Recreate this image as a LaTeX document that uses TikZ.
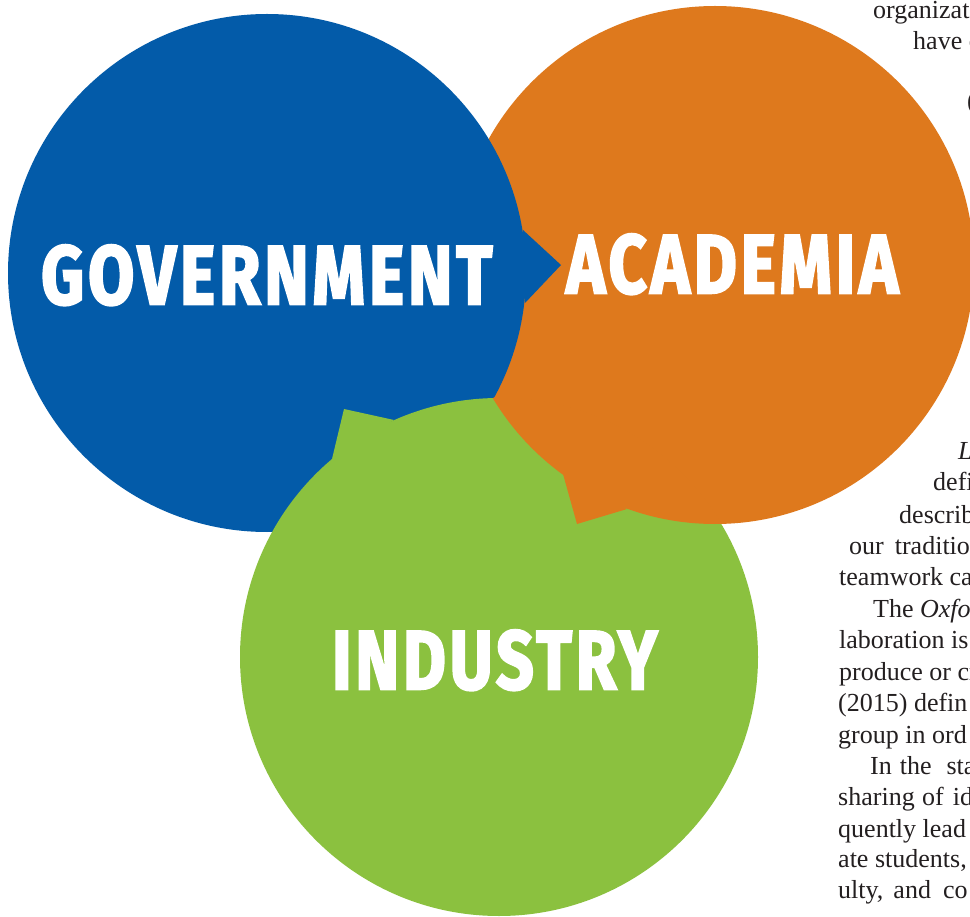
\documentclass[tikz,border=0pt]{standalone}
\usepackage{fontspec}
\setmainfont{Liberation Serif}
\newfontfamily\labelfont{Fira Sans}[LetterSpace=6,BoldFeatures={FakeBold=3}]
\definecolor{blueC}{RGB}{3,91,169}
\definecolor{orangeC}{RGB}{222,121,29}
\definecolor{greenC}{RGB}{139,193,63}
\definecolor{textgray}{RGB}{35,31,32}
\begin{document}
\begin{tikzpicture}[x=1pt,y=-1pt,
  bodytext/.style={anchor=base west, inner sep=0pt, font=\fontsize{26}{31}\selectfont, text=textgray},
  biglabel/.style={anchor=base west, inner sep=0pt, text=white}]
\useasboundingbox (0,0) rectangle (970,917);
\clip (0,0) rectangle (970,917);
\fill[white] (0,0) rectangle (970,917);
% circles (cyclic overlap: blue over orange, orange over green, green over blue)
\fill[orangeC] (715,265) circle [radius=259pt];
\fill[blueC] (267,273) circle [radius=259pt];
\fill[greenC] (499,657) circle [radius=259pt];
\begin{scope}
  \clip (499,657) circle [radius=259pt];
  \fill[orangeC] (715,265) circle [radius=259pt];
\end{scope}
\begin{scope}
  \clip (715,265) circle [radius=258pt];
  \draw[orangeC, line width=1.4pt] (499,657) circle [radius=259pt];
\end{scope}
% tails
\fill[blueC] (523,230) -- (561,265) -- (525,303) -- cycle;
\fill[greenC] (332,459) -- (344,409) -- (394,420) -- cycle;
\fill[orangeC] (563,474) -- (577,524) -- (627,509) -- cycle;
% labels
\node[biglabel] (gov) at (41,304) {\resizebox{451pt}{59pt}{\labelfont\bfseries GOVERNMENT}};
\node[biglabel] (aca) at (566,293) {\resizebox{332pt}{59pt}{\labelfont\bfseries ACADEMIA}};
\node[biglabel] (ind) at (332,689) {\resizebox{325pt}{59pt}{\labelfont\bfseries INDUSTRY}};
% body text (cropped at the right edge)
\node[bodytext] (t1) at (873,19) {organizat};
\node[bodytext] (t2) at (913,50) {have c};
\node[bodytext] (t3) at (967,110) {(};
\node[bodytext] (t4) at (958,460) {\textit{L}};
\node[bodytext] (t5) at (933,490) {defi};
\node[bodytext] (t6) at (899,523) {describ};
\node[bodytext] (t7) at (849,554) {our\hspace{11pt}traditio};
\node[bodytext] (t8) at (839,585) {teamwork ca};
\node[bodytext] (t9) at (873,617) {The \textit{Oxford}};
\node[bodytext] (t10) at (839,648) {laboration is t};
\node[bodytext] (t11) at (839,680) {produce or cr};
\node[bodytext] (t12) at (838,711) {(2015) defin};
\node[bodytext] (t13) at (838,743) {group in ord};
\node[bodytext] (t14) at (870,774) {In\hspace{8pt}the\hspace{15pt}sta};
\node[bodytext] (t15) at (838,805) {sharing\hspace{7.5pt}of\hspace{9pt}id};
\node[bodytext] (t16) at (838,837) {quently lead};
\node[bodytext] (t17) at (838,867) {ate students,};
\node[bodytext] (t18) at (838,898) {ulty,\hspace{10pt}and\hspace{12pt}co};
\end{tikzpicture}
\end{document}
